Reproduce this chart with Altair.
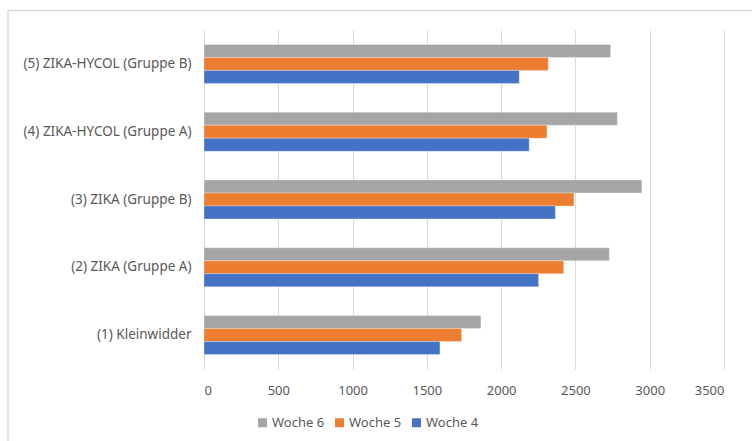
import altair as alt
import pandas as pd

categories = [
    "(5) ZIKA-HYCOL (Gruppe B)",
    "(4) ZIKA-HYCOL (Gruppe A)",
    "(3) ZIKA (Gruppe B)",
    "(2) ZIKA (Gruppe A)",
    "(1) Kleinwidder",
]
series = ["Woche 6", "Woche 5", "Woche 4"]
woche6 = [2737, 2782, 2947, 2728, 1864]
woche5 = [2317, 2308, 2490, 2421, 1734]
woche4 = [2122, 2189, 2365, 2252, 1588]
colors = ["#A5A5A5", "#ED7D31", "#4472C4"]
x_ticks = [0, 500, 1000, 1500, 2000, 2500, 3000, 3500]

rows = []
for s, vals in zip(series, [woche6, woche5, woche4]):
    for c, v in zip(categories, vals):
        rows.append({"Gruppe": c, "Serie": s, "Wert": v})
df = pd.DataFrame(rows)

FONT = "Noto Sans"
TXT = "#595959"

border = alt.Chart(pd.DataFrame({"a": [0]})).mark_rect(
    fill=None, stroke="#D9D9D9", strokeWidth=1.5, clip=False
).encode(
    x=alt.value(-196), x2=alt.value(560), y=alt.value(-19.5), y2=alt.value(460)
)

bars = alt.Chart(df).mark_bar(stroke="white", strokeWidth=0.5, strokeOpacity=0.6).encode(
    y=alt.Y(
        "Gruppe:N",
        sort=categories,
        title=None,
        scale=alt.Scale(paddingInner=0.425, paddingOuter=0.2125),
        axis=alt.Axis(
            domain=False, ticks=False, grid=False, labelFont=FONT, labelFontSize=13.5,
            labelColor=TXT, labelPadding=13, labelLimit=300,
        ),
    ),
    yOffset=alt.YOffset("Serie:N", sort=series, scale=alt.Scale(paddingInner=0, paddingOuter=0)),
    x=alt.X(
        "Wert:Q",
        title=None,
        scale=alt.Scale(domain=[0, 3500], nice=False),
        axis=alt.Axis(
            values=x_ticks, format="d", domain=False, ticks=False, grid=True,
            gridColor="#D9D9D9", gridWidth=1, labelFont=FONT, labelFontSize=13,
            labelColor=TXT, labelPadding=15,
        ),
    ),
    color=alt.Color(
        "Serie:N",
        sort=series,
        scale=alt.Scale(domain=series, range=colors),
        legend=alt.Legend(
            title=None, orient="none", direction="horizontal", legendX=52, legendY=386,
            symbolType="square", symbolSize=80, symbolStrokeWidth=0, labelFont=FONT,
            labelFontSize=13, labelColor=TXT, columnPadding=8, labelOffset=3,
        ),
    ),
)

chart = alt.layer(border, bars).properties(
    width=520,
    height=339,
    padding={"left": 204, "top": 30, "right": 28, "bottom": 72},
    autosize=alt.AutoSizeParams(type="none"),
    background="white",
).configure_view(stroke=None)

chart.save("out.html", embed_options={"renderer": "svg", "actions": False})
